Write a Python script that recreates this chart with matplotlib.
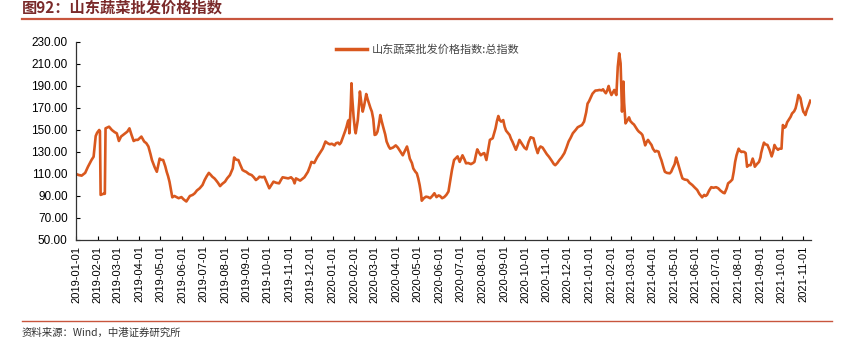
import numpy as np
import pandas as pd
import matplotlib
matplotlib.use('Agg')
import matplotlib.pyplot as plt
import matplotlib.dates as mdates
from matplotlib.lines import Line2D

plt.rcParams['font.family'] = ['Liberation Sans', 'Noto Sans CJK SC', 'DejaVu Sans']
plt.rcParams['axes.unicode_minus'] = False

LINE_COL = '#D9581E'
TITLE_COL = '#7A2A2A'
RULE_COL = '#C8553D'

# 山东蔬菜批发价格指数:总指数, 以 2019-01-01 起算的天数
START = '2019-01-01'
days = [
    0, 4, 8, 13, 17, 22, 25, 28, 30, 33, 34, 35, 39, 41, 42, 47, 51, 55, 58, 61,
    64, 67, 70, 73, 76, 79, 82, 85, 88, 93, 97, 100, 103, 106, 108, 112, 115, 117, 119, 121,
    124, 127, 129, 131, 133, 137, 140, 143, 146, 150, 153, 157, 160, 162, 166, 169, 172, 176, 180, 183,
    186, 189, 192, 194, 197, 199, 202, 205, 208, 212, 215, 219, 221, 223, 225, 228, 231, 234, 237, 240,
    242, 246, 250, 253, 256, 259, 261, 265, 268, 271, 275, 278, 281, 285, 289,
    292, 294, 298, 302, 306, 309, 311, 313, 316, 319, 322, 325, 328, 330, 333, 335, 339, 343, 347, 351,
    355, 358, 361, 364, 368, 370, 373, 375, 377, 379, 381, 383, 385, 387, 388, 389, 391, 392, 393, 395,
    397, 398, 400, 401, 403, 404, 406, 408, 410, 413, 415, 417, 419, 421, 423, 425, 427, 429, 431, 433,
    435, 437, 440, 442, 445, 447, 451, 455, 458, 460, 463, 465, 468, 471, 473, 475, 478, 480, 483, 485,
    487, 489, 491, 492, 495, 498, 501, 504, 507, 510, 513, 516, 518, 521, 524, 527, 530, 532, 535, 538,
    540, 543, 546, 548, 550, 553, 555, 558, 562, 565, 567, 569, 571,
    573, 576, 579, 581, 584, 586, 589, 593, 595, 597, 599, 601, 603, 605, 608, 610, 612, 615, 617, 619,
    621, 624, 626, 629, 631, 633, 635, 638, 641, 644, 647, 649, 651, 654, 657, 659, 661, 664, 666, 670,
    673, 677, 680, 682, 685, 688, 691, 695, 698, 701, 704, 707, 711, 714, 717, 720, 723, 726, 728, 730,
    732, 735, 739, 742, 745, 748, 750, 752, 754, 756, 758, 760, 762, 764, 766, 768, 769, 770, 771, 773,
    775, 776, 777, 778, 779, 780, 782, 784, 787, 789, 792, 794, 796, 799, 801, 804, 806, 808, 810, 812,
    814, 816, 819, 821, 824, 826, 829, 831, 833, 836, 838, 841, 845, 847, 849, 852, 854, 856, 858, 861,
    863, 866, 870, 873, 877, 880, 884, 887, 891, 894, 896, 898, 901, 904, 907, 911, 914, 917, 919, 921,
    923, 926, 928, 931, 934, 936, 938, 940, 943, 945, 947, 949, 951, 953, 955, 957, 960, 962, 963, 965,
    966, 969, 972, 974, 975, 977, 979, 981, 984, 987, 990, 992, 994, 996, 999, 1001, 1004, 1005, 1006, 1008,
    1010, 1012, 1014, 1017, 1019, 1022, 1024, 1026, 1028, 1030, 1031, 1033, 1035, 1037, 1038, 1040, 1042, 1045,
]
values = [
    110, 109, 108.5, 111, 116.6, 122.7, 125.7, 144.5, 147.5, 150, 149, 91, 92, 92, 151.5, 153, 150, 148, 147, 140,
    144, 145.5, 147, 148.5, 151.5, 145.5, 140, 141, 141, 144, 139.5, 138, 135, 128, 122.7, 116, 112, 118, 124, 123,
    122.7, 117, 112, 108, 103, 88.8, 90, 89, 88, 89, 87, 85, 88, 90, 91, 92.5, 95, 97, 100, 104.5,
    108, 111, 109, 107.5, 106, 104.5, 102, 99, 101, 103, 106, 109, 112, 115, 125, 123, 122.7, 118, 113.6, 112.5,
    112, 110, 109, 107, 104.5, 106, 107.5, 107, 107.5, 103, 97, 100, 103, 102, 101.5,
    105, 107, 106.5, 106, 107, 105, 101.5, 106, 105, 104, 105.5, 107, 110, 112, 117, 121, 120, 125, 129, 133,
    139.5, 138, 137, 137.5, 136, 138, 138.5, 137, 138.5, 142, 145.5, 149, 153, 158, 159, 147, 172.7, 192.5, 180, 162,
    150, 147, 155, 159, 175, 185, 175, 166.7, 172, 182.7, 178, 174, 170, 166.7, 160, 145.5, 146, 148.5, 155, 163.6,
    158, 153, 146, 139.5, 135, 133, 134, 136, 134, 132, 129, 127, 131, 135, 130, 124, 120, 115, 112, 110.6,
    106, 100, 92, 85.7, 88, 89.4, 89, 88, 90, 92.5, 89, 90.5, 90, 88, 89, 91, 94, 102, 113.6, 122.7,
    124, 126, 121, 124, 127, 123, 119.7, 120, 119, 120, 121, 127, 132.4,
    130, 127, 128.5, 129, 122.7, 130, 141, 142.5, 147, 151.5, 158, 162.7, 159, 157.6, 159, 153, 149.4, 147, 145.5, 142,
    139.5, 135, 132, 137, 141, 139, 137, 134, 132.4, 139, 143.4, 143, 142.5, 135, 129, 133, 135, 134, 132, 128,
    125.7, 122, 119, 118, 120, 122.7, 125, 129, 134, 139.5, 143, 147, 150, 152.5, 153.5, 154.5, 157.6, 166, 174, 176,
    178.8, 183, 185.8, 186, 186.4, 186, 187, 185, 183.4, 186, 190, 185, 181.8, 184, 186.4, 183, 181.8, 195, 207.5, 219.7,
    210.6, 190, 166.7, 180, 194, 175, 156, 158, 161.5, 158, 156, 155, 153, 150, 148.5, 147, 145.5, 141, 136, 139,
    141, 139, 136.4, 133, 130.3, 131, 130.3, 126, 122.7, 116, 112, 111, 110.6, 112, 115, 119, 125, 121, 116.6, 110,
    106, 105, 104.5, 102, 100, 98, 95.5, 92, 88.8, 91, 90, 91, 95, 98, 97.5, 98, 97, 95, 94, 93,
    92.5, 97, 101.5, 103, 105, 112, 121, 127, 133, 131, 130, 130.3, 130, 129, 116.6, 118, 118, 122, 124, 120,
    116.6, 119, 121, 125, 129, 134, 138.5, 137, 136.4, 132, 126, 130, 136.4, 134, 132, 133, 133, 145, 154.5, 152,
    153, 157, 159, 162, 165, 167, 169.7, 175, 181.8, 180, 178.8, 172, 166.7, 165, 163.6, 168, 171.2, 176.6,
]
y_ticks = [50, 70, 90, 110, 130, 150, 170, 190, 210, 230]
series_name = '山东蔬菜批发价格指数:总指数'

dates = pd.Timestamp(START) + pd.to_timedelta(days, unit='D')

fig = plt.figure(figsize=(8.42, 3.43), dpi=100, facecolor='white')
ax = fig.add_axes([0.0903, 0.3003, 0.8729, 0.5773])

ax.plot(dates, values, color=LINE_COL, linewidth=1.9, solid_joinstyle='round')

ax.set_xlim(pd.Timestamp(START), pd.Timestamp(START) + pd.Timedelta(days=1046))
ax.set_ylim(50, 230)
ax.set_yticks(y_ticks)
ax.yaxis.set_major_formatter(plt.FormatStrFormatter('%.2f'))
ax.set_xticks(pd.date_range('2019-01-01', '2021-11-01', freq='MS'))
ax.xaxis.set_major_formatter(mdates.DateFormatter('%Y-%m-%d'))
ax.tick_params(axis='x', rotation=90, labelsize=8, direction='in', length=3, width=0.8, pad=4)
ax.tick_params(axis='y', labelsize=8.5, direction='in', length=3, width=0.8, pad=6)
for s in ('top', 'right'):
    ax.spines[s].set_visible(False)
for s in ('left', 'bottom'):
    ax.spines[s].set_color('#333333')
    ax.spines[s].set_linewidth(0.9)

handle = Line2D([], [], color=LINE_COL, linewidth=2.5)
leg = ax.legend([handle], [series_name], loc='upper center', bbox_to_anchor=(0.478, 1.04),
                frameon=False, handlelength=2.8, handletextpad=0.4,
                prop={'family': ['Noto Sans CJK SC'], 'size': 8})
for t in leg.get_texts():
    t.set_color('#444444')

# 标题与上下分隔线
fig.text(0.026, 1 - 8 / 343, '图92：山东蔬菜批发价格指数', color=TITLE_COL, fontsize=11,
         fontweight='bold', family=['Noto Sans CJK SC'], ha='left', va='center')
fig.add_artist(Line2D([0.026, 0.988], [1 - 19 / 343] * 2, color=RULE_COL, linewidth=1.6))
fig.add_artist(Line2D([0.026, 0.988], [1 - 321 / 343] * 2, color=RULE_COL, linewidth=1.0))
fig.text(0.026, 1 - 333 / 343, '资料来源：Wind，中港证券研究所', color='#333333', fontsize=7.5,
         style='italic', family=['Noto Sans CJK SC', 'Liberation Sans'], ha='left', va='center')

fig.savefig('out.png', dpi=100, facecolor='white')
